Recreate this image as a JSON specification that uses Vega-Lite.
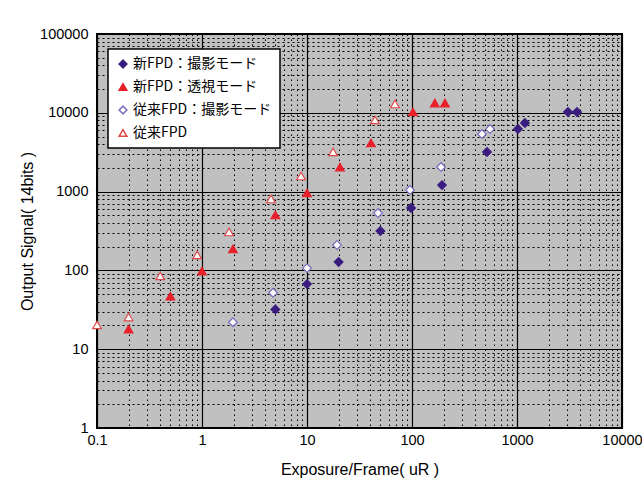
{
  "$schema": "https://vega.github.io/schema/vega-lite/v6.json",
  "width": 525,
  "height": 394,
  "autosize": "none",
  "padding": {"left": 97, "top": 34, "right": 20, "bottom": 69},
  "background": "white",
  "config": {
    "view": {"fill": "#C0C0C0", "stroke": "black", "strokeWidth": 2},
    "axis": {
      "domain": false,
      "ticks": false,
      "labelFont": "Liberation Sans",
      "labelFontSize": 14.5,
      "labelColor": "black",
      "titleFont": "Liberation Sans",
      "titleFontSize": 16,
      "titleFontWeight": "normal",
      "titleColor": "black"
    },
    "legend": {
      "orient": "none", "legendX": 11, "legendY": 15, "title": null,
      "fillColor": "white", "strokeColor": "black", "strokeWidth": 1.5, "padding": 8,
      "labelFont": "Noto Sans CJK JP", "labelFontSize": 14, "labelColor": "black",
      "rowPadding": 9, "symbolSize": 60, "labelOffset": 3, "symbolOffset": 0
    }
  },
  "data": {
    "values": [
      {"s": "新FPD：撮影モード", "x": 5, "y": 32},
      {"s": "新FPD：撮影モード", "x": 10, "y": 67},
      {"s": "新FPD：撮影モード", "x": 20, "y": 128},
      {"s": "新FPD：撮影モード", "x": 50, "y": 316},
      {"s": "新FPD：撮影モード", "x": 98, "y": 620},
      {"s": "新FPD：撮影モード", "x": 193, "y": 1210},
      {"s": "新FPD：撮影モード", "x": 518, "y": 3180},
      {"s": "新FPD：撮影モード", "x": 1020, "y": 6220},
      {"s": "新FPD：撮影モード", "x": 1190, "y": 7420},
      {"s": "新FPD：撮影モード", "x": 3060, "y": 10240},
      {"s": "新FPD：撮影モード", "x": 3730, "y": 10240},
      {"s": "新FPD：透視モード", "x": 0.2, "y": 18},
      {"s": "新FPD：透視モード", "x": 0.5, "y": 47},
      {"s": "新FPD：透視モード", "x": 1, "y": 98},
      {"s": "新FPD：透視モード", "x": 1.97, "y": 187},
      {"s": "新FPD：透視モード", "x": 5, "y": 505},
      {"s": "新FPD：透視モード", "x": 10, "y": 960},
      {"s": "新FPD：透視モード", "x": 20.6, "y": 2050},
      {"s": "新FPD：透視モード", "x": 40.7, "y": 4140},
      {"s": "新FPD：透視モード", "x": 102, "y": 10240},
      {"s": "新FPD：透視モード", "x": 165, "y": 13300},
      {"s": "新FPD：透視モード", "x": 206, "y": 13300},
      {"s": "従来FPD：撮影モード", "x": 1.97, "y": 22},
      {"s": "従来FPD：撮影モード", "x": 4.75, "y": 52},
      {"s": "従来FPD：撮影モード", "x": 10, "y": 107},
      {"s": "従来FPD：撮影モード", "x": 19.3, "y": 210},
      {"s": "従来FPD：撮影モード", "x": 47.5, "y": 535},
      {"s": "従来FPD：撮影モード", "x": 95.7, "y": 1047},
      {"s": "従来FPD：撮影モード", "x": 189, "y": 2050},
      {"s": "従来FPD：撮影モード", "x": 464, "y": 5380},
      {"s": "従来FPD：撮影モード", "x": 553, "y": 6220},
      {"s": "従来FPD", "x": 0.1, "y": 20.3},
      {"s": "従来FPD", "x": 0.2, "y": 25.6},
      {"s": "従来FPD", "x": 0.4, "y": 85},
      {"s": "従来FPD", "x": 0.9, "y": 157},
      {"s": "従来FPD", "x": 1.81, "y": 307},
      {"s": "従来FPD", "x": 4.54, "y": 805},
      {"s": "従来FPD", "x": 8.77, "y": 1578},
      {"s": "従来FPD", "x": 17.7, "y": 3184},
      {"s": "従来FPD", "x": 44.4, "y": 8110},
      {"s": "従来FPD", "x": 68.9, "y": 12940}
    ]
  },
  "layer": [
    {
      "mark": {"type": "point", "opacity": 0},
      "encoding": {
        "x": {
          "field": "x", "type": "quantitative",
          "scale": {"type": "log", "domain": [0.1, 10000], "nice": false},
          "axis": {
            "orient": "bottom", "labels": false, "title": null,
            "values": [0.2,0.3,0.4,0.5,0.6,0.7,0.8,0.9,2,3,4,5,6,7,8,9,20,30,40,50,60,70,80,90,200,300,400,500,600,700,800,900,2000,3000,4000,5000,6000,7000,8000,9000],
            "grid": true, "gridColor": "black", "gridOpacity": 1, "gridWidth": 1, "gridDash": [1.5, 3.5]
          }
        },
        "y": {
          "field": "y", "type": "quantitative",
          "scale": {"type": "log", "domain": [1, 100000], "nice": false},
          "axis": {
            "orient": "left", "labels": false, "title": null,
            "values": [2,3,4,5,6,7,8,9,20,30,40,50,60,70,80,90,200,300,400,500,600,700,800,900,2000,3000,4000,5000,6000,7000,8000,9000,20000,30000,40000,50000,60000,70000,80000,90000],
            "grid": true, "gridColor": "black", "gridOpacity": 1, "gridWidth": 1, "gridDash": [2, 3]
          }
        }
      }
    },
    {
      "mark": {"type": "point", "filled": true, "opacity": 1, "strokeWidth": 1.2, "size": 75},
      "encoding": {
        "x": {
          "field": "x", "type": "quantitative",
          "scale": {"type": "log", "domain": [0.1, 10000], "nice": false},
          "axis": {
            "orient": "bottom", "title": "Exposure/Frame( uR )",
            "values": [0.1, 1, 10, 100, 1000, 10000], "format": "~g",
            "labelPadding": 5, "titlePadding": 15, "labelFlush": false,
            "grid": true, "gridColor": "black", "gridOpacity": 1, "gridWidth": 1.2
          }
        },
        "y": {
          "field": "y", "type": "quantitative",
          "scale": {"type": "log", "domain": [1, 100000], "nice": false},
          "axis": {
            "orient": "left", "title": "Output Signal( 14bits )",
            "values": [1, 10, 100, 1000, 10000, 100000], "format": "d",
            "labelPadding": 9, "titlePadding": 4, "labelFlush": false,
            "grid": true, "gridColor": "black", "gridOpacity": 1, "gridWidth": 1.2
          }
        },
        "shape": {
          "field": "s", "type": "nominal",
          "scale": {"domain": ["新FPD：撮影モード", "新FPD：透視モード", "従来FPD：撮影モード", "従来FPD"], "range": ["diamond", "triangle-up", "diamond", "triangle-up"]}
        },
        "fill": {
          "field": "s", "type": "nominal",
          "scale": {"domain": ["新FPD：撮影モード", "新FPD：透視モード", "従来FPD：撮影モード", "従来FPD"], "range": ["#3A1C80", "#E8202A", "#FFFFFF", "#FFFFFF"]}
        },
        "stroke": {
          "field": "s", "type": "nominal",
          "scale": {"domain": ["新FPD：撮影モード", "新FPD：透視モード", "従来FPD：撮影モード", "従来FPD"], "range": ["#3A1C80", "#E8202A", "#7E6CBE", "#E04A4A"]}
        }
      }
    }
  ],
  "resolve": {"axis": {"x": "independent", "y": "independent"}}
}
